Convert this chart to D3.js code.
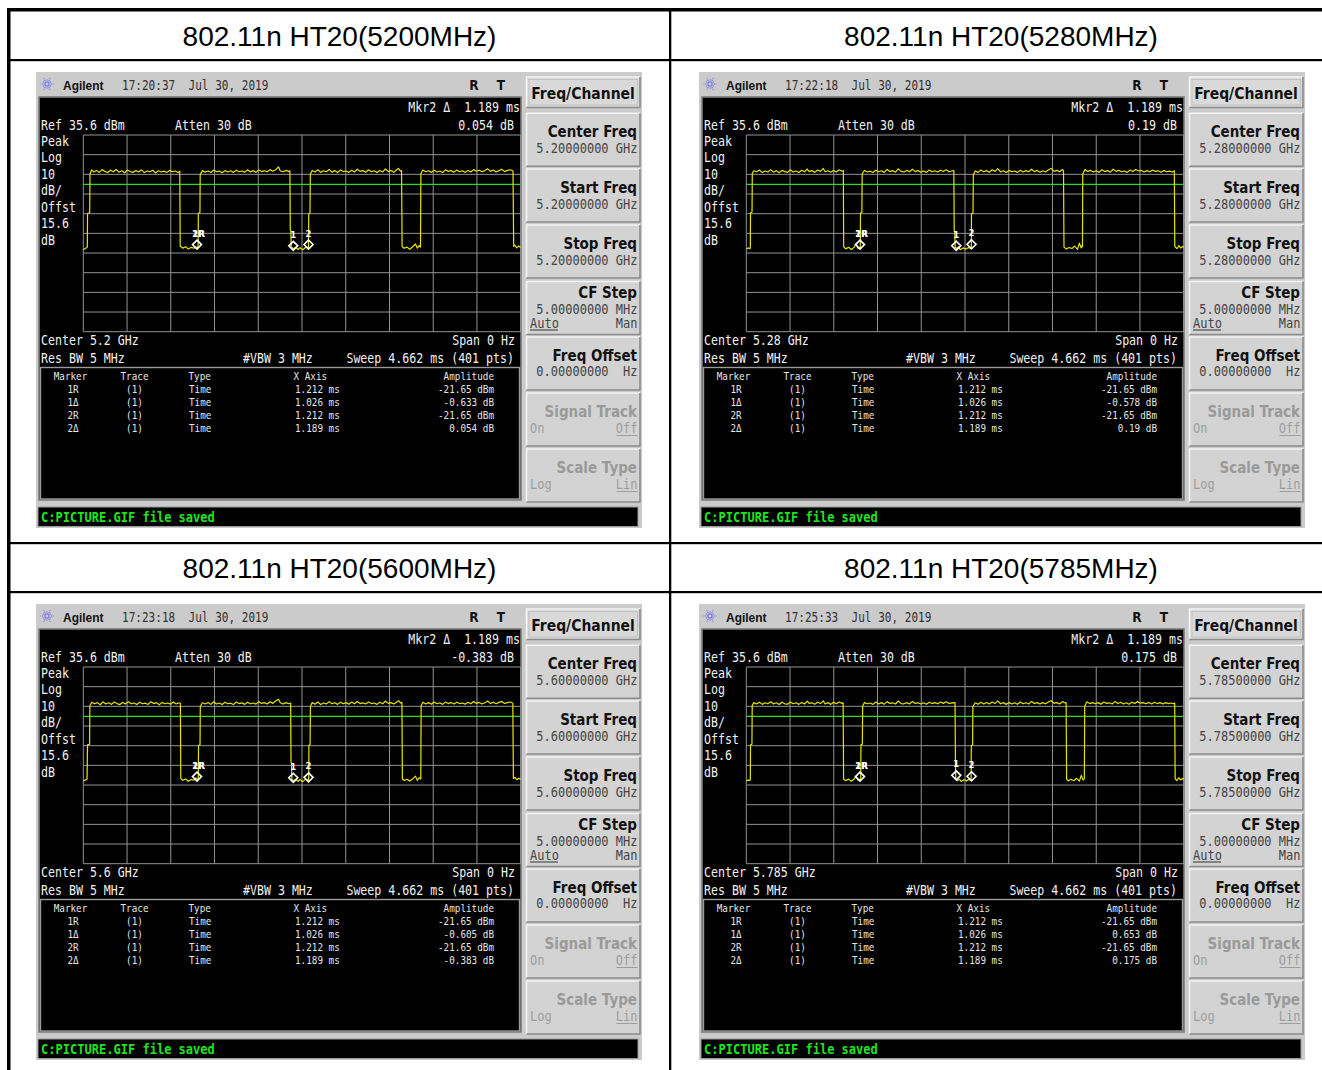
<!DOCTYPE html>
<html><head><meta charset="utf-8">
<script src="https://cdn.jsdelivr.net/npm/d3@7"></script>
<style>body{margin:0;background:#fff}svg{display:block}text{white-space:pre}</style>
</head><body>
<svg id="c" width="1322" height="1070"></svg>
<script>
// ---------------- data ----------------
const titles = ["802.11n HT20(5200MHz)","802.11n HT20(5280MHz)","802.11n HT20(5600MHz)","802.11n HT20(5785MHz)"];
const clockTimes = ["17:20:37","17:22:18","17:23:18","17:25:33"];
const dateText = "Jul 30, 2019";
const centerFreqs = ["5.20000000 GHz","5.28000000 GHz","5.60000000 GHz","5.78500000 GHz"];
const centerShort = ["5.2 GHz","5.28 GHz","5.6 GHz","5.785 GHz"];
const mkr2Delta = ["0.054 dB","0.19 dB","-0.383 dB","0.175 dB"];
const markerNames = ["1R","1Δ","2R","2Δ"];
const markerXText = ["1.212 ms","1.026 ms","1.212 ms","1.189 ms"];
const markerXms = [1.212, 1.026, 1.212, 1.189];
const markerAmpText = [
  ["-21.65 dBm","-0.633 dB","-21.65 dBm","0.054 dB"],
  ["-21.65 dBm","-0.578 dB","-21.65 dBm","0.19 dB"],
  ["-21.65 dBm","-0.605 dB","-21.65 dBm","-0.383 dB"],
  ["-21.65 dBm","0.653 dB","-21.65 dBm","0.175 dB"]
];
const markerRefAmp = -21.65;
const markerDeltaAmp = [[-0.633,0.054],[-0.578,0.19],[-0.605,-0.383],[0.653,0.175]];
const refLevel = 35.6, dbPerDiv = 10, divisions = 10, sweepMs = 4.662, displayLineDbm = 10.5;
const leftLabels = ["Peak","Log","10","dB/","Offst","15.6","dB"];
const softkeyLabels = ["Center Freq","Start Freq","Stop Freq","CF Step","Freq Offset","Signal Track","Scale Type"];

// traces: [time ms, level dBm]
const trace5200 = [[0,-22.8],[0.015,-22.2],[0.035,-21.7],[0.043,-21.4],[0.045,-4.3],[0.068,-3.9],[0.071,15.8],
[0.09,17.9],[0.11,16.8],[0.14,17.6],[0.17,16.6],[0.20,18.0],[0.23,17.1],[0.26,16.5],[0.29,17.7],[0.32,16.9],[0.35,18.1],[0.38,16.7],[0.41,17.4],[0.44,16.4],[0.47,17.8],[0.50,17.0],[0.53,16.6],[0.56,17.5],[0.59,16.8],[0.62,17.9],[0.65,16.5],[0.68,17.3],[0.71,16.9],[0.74,17.7],[0.77,16.3],[0.80,17.4],[0.83,16.8],[0.86,17.2],[0.89,16.6],[0.92,17.6],[0.95,16.9],[0.98,17.3],[1.01,16.5],[1.028,17.2],
[1.033,-21.0],[1.06,-21.9],[1.09,-21.2],[1.12,-22.4],[1.15,-21.5],[1.18,-22.0],[1.20,-21.3],[1.215,-21.7],[1.224,-20.8],[1.226,-4.2],[1.243,-3.8],[1.246,15.6],
[1.27,17.5],[1.30,16.7],[1.33,17.3],[1.36,16.5],[1.39,17.8],[1.42,16.9],[1.45,17.2],[1.48,16.4],[1.51,17.5],[1.54,16.8],[1.57,17.4],[1.60,16.6],[1.63,17.7],[1.66,16.9],[1.69,17.3],[1.72,16.7],[1.75,17.9],[1.78,16.8],[1.81,17.5],[1.84,16.6],[1.87,17.8],[1.90,17.0],[1.93,17.4],[1.96,16.9],[1.99,18.0],[2.02,17.2],[2.05,17.9],[2.08,19.4],[2.10,17.3],[2.13,16.9],[2.16,17.6],[2.19,17.0],[2.202,17.4],
[2.206,-12.5],[2.212,-13.0],[2.216,-21.3],[2.24,-22.3],[2.26,-21.4],[2.29,-22.6],[2.31,-21.7],[2.34,-22.8],[2.37,-21.5],[2.39,-22.0],[2.40,-21.6],[2.403,-4.4],[2.416,-4.0],[2.42,15.7],
[2.44,17.6],[2.47,16.8],[2.50,17.9],[2.53,16.6],[2.56,17.4],[2.59,16.9],[2.62,18.1],[2.65,16.7],[2.68,17.5],[2.71,16.5],[2.74,17.8],[2.77,17.0],[2.80,17.3],[2.83,16.6],[2.86,17.7],[2.89,16.8],[2.92,18.2],[2.95,17.1],[2.98,17.5],[3.01,16.7],[3.04,17.9],[3.07,16.9],[3.10,17.4],[3.13,16.5],[3.16,17.6],[3.19,16.8],[3.22,18.3],[3.25,17.0],[3.28,17.6],[3.31,16.7],[3.34,17.9],[3.36,18.6],[3.38,17.2],[3.392,17.5],
[3.398,-21.1],[3.42,-22.0],[3.45,-21.4],[3.48,-22.5],[3.51,-21.2],[3.54,-19.8],[3.56,-21.9],[3.58,-20.6],[3.594,-21.4],[3.598,16.0],
[3.62,17.8],[3.65,16.9],[3.68,17.4],[3.71,16.6],[3.74,17.7],[3.77,16.8],[3.80,17.3],[3.83,16.5],[3.86,17.9],[3.89,17.1],[3.92,17.5],[3.95,16.7],[3.98,17.8],[4.01,16.9],[4.04,17.4],[4.07,16.6],[4.10,17.6],[4.13,16.8],[4.16,18.0],[4.19,17.2],[4.22,17.7],[4.25,16.9],[4.28,17.5],[4.31,18.4],[4.34,17.1],[4.37,17.8],[4.40,16.8],[4.43,17.5],[4.46,18.2],[4.49,17.0],[4.52,17.6],[4.55,17.9],[4.58,17.3],
[4.587,-21.0],[4.60,-20.4],[4.62,-21.8],[4.64,-20.9],[4.662,-21.5]];

const trace5280 = [[0,-22.4],[0.02,-21.8],[0.038,-22.2],[0.043,-21.6],[0.045,-3.9],[0.061,-3.6],[0.064,16.1],
[0.08,17.4],[0.11,16.9],[0.14,17.8],[0.17,16.5],[0.20,17.3],[0.23,16.8],[0.26,18.0],[0.29,16.7],[0.32,17.5],[0.35,16.4],[0.38,17.6],[0.41,17.0],[0.44,16.6],[0.47,17.9],[0.50,16.8],[0.53,17.3],[0.56,16.5],[0.59,17.7],[0.62,16.9],[0.65,18.3],[0.67,17.0],[0.70,17.5],[0.73,16.6],[0.76,17.8],[0.79,17.1],[0.82,18.6],[0.84,16.9],[0.87,17.4],[0.90,16.7],[0.93,17.6],[0.96,16.8],[0.99,17.9],[1.02,17.2],[1.034,17.5],
[1.038,-21.2],[1.06,-22.3],[1.09,-21.5],[1.12,-22.6],[1.15,-21.4],[1.17,-19.6],[1.19,-22.1],[1.21,-21.6],[1.215,-21.9],[1.217,-4.1],[1.232,-3.7],[1.235,15.9],
[1.26,17.6],[1.29,16.8],[1.32,17.2],[1.35,16.5],[1.38,17.7],[1.41,16.9],[1.44,17.4],[1.47,16.6],[1.50,18.1],[1.53,17.0],[1.56,17.5],[1.59,16.7],[1.62,18.4],[1.65,17.1],[1.68,16.8],[1.71,17.6],[1.74,16.9],[1.77,18.2],[1.80,17.0],[1.83,17.5],[1.86,16.7],[1.89,17.3],[1.92,16.6],[1.95,17.8],[1.98,16.9],[2.01,17.4],[2.04,16.8],[2.07,17.7],[2.10,17.0],[2.13,18.0],[2.16,16.9],[2.19,17.3],[2.212,17.6],
[2.216,-13.2],[2.222,-13.6],[2.226,-21.5],[2.24,-22.1],[2.26,-21.3],[2.28,-22.7],[2.31,-21.8],[2.34,-22.4],[2.37,-21.6],[2.39,-22.2],[2.398,-21.7],[2.40,-4.5],[2.416,-4.1],[2.42,15.4],
[2.44,17.3],[2.47,16.6],[2.50,17.8],[2.53,16.9],[2.56,17.5],[2.59,16.7],[2.62,17.9],[2.65,17.1],[2.68,18.5],[2.71,16.8],[2.74,17.4],[2.77,16.5],[2.80,17.6],[2.83,16.9],[2.86,17.3],[2.89,16.6],[2.92,17.7],[2.95,16.8],[2.98,17.5],[3.01,16.9],[3.04,18.2],[3.07,17.0],[3.10,17.6],[3.13,16.7],[3.16,17.4],[3.19,16.8],[3.22,17.9],[3.25,18.6],[3.28,17.1],[3.31,17.6],[3.34,16.9],[3.37,18.1],[3.381,17.4],
[3.386,-21.3],[3.41,-22.4],[3.44,-21.6],[3.47,-22.1],[3.50,-20.9],[3.53,-22.5],[3.55,-19.4],[3.57,-21.8],[3.58,-20.5],[3.583,-21.2],[3.586,15.8],
[3.61,18.0],[3.64,17.1],[3.67,17.6],[3.70,16.8],[3.73,17.4],[3.76,16.6],[3.79,17.9],[3.82,17.0],[3.85,17.5],[3.88,16.7],[3.91,18.2],[3.94,17.1],[3.97,17.6],[4.00,16.9],[4.03,17.3],[4.06,16.6],[4.09,17.8],[4.12,17.0],[4.15,18.1],[4.18,17.3],[4.21,17.6],[4.24,16.8],[4.27,17.5],[4.30,16.9],[4.33,17.8],[4.36,17.1],[4.39,17.4],[4.42,16.7],[4.45,17.6],[4.48,16.9],[4.51,17.2],[4.54,16.8],[4.562,17.4],
[4.567,-21.1],[4.59,-22.2],[4.61,-20.6],[4.63,-21.9],[4.65,-21.0],[4.662,-21.6]];

const trace5600 = [[0,-22.5],[0.02,-21.9],[0.04,-21.5],[0.045,-4.0],[0.067,-3.7],[0.07,15.9],
[0.09,17.7],[0.12,16.9],[0.15,17.5],[0.18,16.4],[0.21,17.9],[0.24,16.8],[0.27,17.4],[0.30,16.6],[0.33,17.8],[0.36,17.0],[0.39,16.5],[0.42,17.6],[0.45,16.8],[0.48,18.0],[0.51,16.9],[0.54,17.3],[0.57,16.5],[0.60,17.7],[0.63,16.9],[0.66,17.2],[0.69,16.6],[0.72,17.9],[0.75,17.0],[0.78,17.5],[0.81,16.4],[0.84,17.6],[0.87,16.9],[0.90,17.3],[0.93,16.7],[0.96,17.8],[0.99,16.8],[1.02,17.4],[1.035,17.0],
[1.039,-21.1],[1.06,-22.0],[1.09,-21.3],[1.12,-22.5],[1.15,-21.6],[1.18,-21.9],[1.20,-20.8],[1.22,-21.7],[1.226,-21.2],[1.228,-4.3],[1.244,-3.9],[1.247,15.5],
[1.27,17.4],[1.30,16.8],[1.33,17.6],[1.36,16.6],[1.39,17.9],[1.42,16.8],[1.45,17.3],[1.48,16.5],[1.51,17.7],[1.54,16.9],[1.57,17.2],[1.60,16.5],[1.63,17.8],[1.66,17.0],[1.69,17.4],[1.72,16.6],[1.75,17.7],[1.78,16.9],[1.81,17.3],[1.84,16.7],[1.87,18.0],[1.90,17.1],[1.93,17.5],[1.96,16.8],[1.99,17.9],[2.02,17.1],[2.05,18.3],[2.08,19.2],[2.10,17.4],[2.13,16.8],[2.16,17.5],[2.19,16.9],[2.21,17.3],
[2.214,-12.8],[2.219,-13.3],[2.223,-21.4],[2.24,-22.4],[2.26,-21.5],[2.29,-22.5],[2.31,-21.6],[2.34,-22.7],[2.37,-21.4],[2.39,-22.1],[2.402,-21.7],[2.405,-4.2],[2.417,-3.9],[2.421,15.6],
[2.44,17.5],[2.47,16.7],[2.50,17.8],[2.53,16.5],[2.56,17.3],[2.59,16.8],[2.62,18.0],[2.65,16.9],[2.68,17.4],[2.71,16.6],[2.74,17.7],[2.77,16.9],[2.80,17.5],[2.83,16.7],[2.86,17.8],[2.89,16.9],[2.92,18.1],[2.95,17.0],[2.98,17.4],[3.01,16.8],[3.04,17.8],[3.07,17.0],[3.10,17.3],[3.13,16.6],[3.16,17.7],[3.19,16.9],[3.22,18.2],[3.25,17.1],[3.28,17.5],[3.31,16.8],[3.34,17.8],[3.36,18.5],[3.38,17.3],[3.396,17.6],
[3.401,-21.2],[3.42,-22.1],[3.45,-21.5],[3.48,-22.4],[3.51,-21.3],[3.54,-19.9],[3.56,-22.0],[3.58,-20.7],[3.597,-21.3],[3.601,15.9],
[3.62,17.7],[3.65,16.8],[3.68,17.5],[3.71,16.7],[3.74,17.8],[3.77,16.9],[3.80,17.4],[3.83,16.6],[3.86,17.8],[3.89,17.0],[3.92,17.6],[3.95,16.8],[3.98,17.7],[4.01,17.0],[4.04,17.3],[4.07,16.7],[4.10,17.7],[4.13,16.9],[4.16,18.1],[4.19,17.1],[4.22,17.6],[4.25,16.8],[4.28,17.4],[4.31,18.3],[4.34,17.0],[4.37,17.7],[4.40,16.9],[4.43,17.6],[4.46,18.1],[4.49,17.1],[4.52,17.5],[4.55,17.8],[4.578,17.2],
[4.584,-21.1],[4.60,-20.5],[4.62,-21.7],[4.64,-21.0],[4.662,-21.4]];

const trace5785 = [[0,-22.3],[0.02,-21.9],[0.038,-22.1],[0.043,-21.5],[0.045,-4.0],[0.06,-3.7],[0.063,16.0],
[0.08,17.5],[0.11,16.8],[0.14,17.7],[0.17,16.6],[0.20,17.4],[0.23,16.9],[0.26,17.9],[0.29,16.8],[0.32,17.4],[0.35,16.5],[0.38,17.7],[0.41,16.9],[0.44,16.7],[0.47,17.8],[0.50,16.9],[0.53,17.4],[0.56,16.6],[0.59,17.6],[0.62,16.8],[0.65,18.2],[0.67,17.1],[0.70,17.4],[0.73,16.7],[0.76,17.7],[0.79,17.0],[0.82,18.4],[0.84,16.8],[0.87,17.5],[0.90,16.6],[0.93,17.7],[0.96,16.9],[0.99,17.8],[1.02,17.1],[1.032,17.4],
[1.037,-21.3],[1.06,-22.2],[1.09,-21.4],[1.12,-22.5],[1.15,-21.3],[1.17,-19.8],[1.19,-22.0],[1.21,-21.7],[1.22,-21.8],[1.222,-4.0],[1.237,-3.6],[1.24,15.8],
[1.26,17.5],[1.29,16.9],[1.32,17.3],[1.35,16.6],[1.38,17.8],[1.41,16.8],[1.44,17.5],[1.47,16.7],[1.50,18.0],[1.53,17.1],[1.56,17.4],[1.59,16.8],[1.62,18.3],[1.65,17.0],[1.68,16.9],[1.71,17.5],[1.74,16.8],[1.77,18.1],[1.80,17.1],[1.83,17.4],[1.86,16.8],[1.89,17.4],[1.92,16.7],[1.95,17.7],[1.98,17.0],[2.01,17.5],[2.04,16.9],[2.07,17.8],[2.10,17.1],[2.13,17.9],[2.16,17.0],[2.19,17.4],[2.225,17.5],
[2.229,-13.0],[2.233,-21.4],[2.25,-22.2],[2.27,-21.4],[2.29,-22.6],[2.32,-21.7],[2.35,-22.3],[2.37,-21.5],[2.39,-22.1],[2.396,-21.8],[2.398,-4.4],[2.412,-4.0],[2.415,15.5],
[2.44,17.4],[2.47,16.7],[2.50,17.7],[2.53,16.8],[2.56,17.6],[2.59,16.8],[2.62,17.8],[2.65,17.0],[2.68,18.4],[2.71,16.9],[2.74,17.5],[2.77,16.6],[2.80,17.5],[2.83,16.8],[2.86,17.4],[2.89,16.7],[2.92,17.8],[2.95,16.9],[2.98,17.4],[3.01,16.8],[3.04,18.1],[3.07,17.1],[3.10,17.5],[3.13,16.8],[3.16,17.5],[3.19,16.9],[3.22,17.8],[3.25,18.5],[3.28,17.2],[3.31,17.5],[3.34,16.8],[3.37,18.0],[3.40,17.3],[3.409,17.5],
[3.414,-21.4],[3.43,-22.3],[3.46,-21.5],[3.49,-22.2],[3.52,-21.0],[3.55,-22.4],[3.57,-19.5],[3.59,-21.9],[3.603,-21.2],[3.607,15.7],
[3.63,17.9],[3.66,17.0],[3.69,17.5],[3.72,16.9],[3.75,17.5],[3.78,16.7],[3.81,17.8],[3.84,17.1],[3.87,17.4],[3.90,16.8],[3.93,18.1],[3.96,17.0],[3.99,17.7],[4.02,16.8],[4.05,17.4],[4.08,16.7],[4.11,17.7],[4.14,17.1],[4.17,18.0],[4.20,17.2],[4.23,17.5],[4.26,16.9],[4.29,17.6],[4.32,16.8],[4.35,17.7],[4.38,17.0],[4.41,17.5],[4.44,16.8],[4.47,17.5],[4.50,17.0],[4.53,17.3],[4.55,16.9],[4.566,17.3],
[4.571,-21.2],[4.59,-22.1],[4.61,-20.7],[4.63,-21.8],[4.65,-21.1],[4.662,-21.5]];
const traces = [trace5200, trace5280, trace5600, trace5785];

// ---------------- drawing ----------------
const MONO = "'DejaVu Sans Mono', monospace";
const SANS = "'Liberation Sans', Arial, sans-serif";
const DSANS = "'DejaVu Sans', sans-serif";
const svg = d3.select("#c");

function T(g, x, y, s, o = {}) {
  return g.append("text")
    .attr("transform", `translate(${x},${y}) scale(${o.sx || 1},1)`)
    .attr("xml:space", "preserve")
    .attr("font-family", o.ff || MONO)
    .attr("font-size", o.fs || 13.5)
    .attr("font-weight", o.fw || "normal")
    .attr("fill", o.fill || "#f2f2f2")
    .attr("text-anchor", o.anchor || "start")
    .text(s);
}

// table frame
svg.append("rect").attr("x", 7).attr("y", 8).attr("width", 1315).attr("height", 3.5).attr("fill", "#000");
svg.append("rect").attr("x", 7).attr("y", 8).attr("width", 3.5).attr("height", 1062).attr("fill", "#000");
svg.append("rect").attr("x", 669).attr("y", 8).attr("width", 2.3).attr("height", 1062).attr("fill", "#000");
[59, 542, 591].forEach(yy => svg.append("rect").attr("x", 7).attr("y", yy).attr("width", 1315).attr("height", 2.2).attr("fill", "#000"));

const titlePos = [[339.5, 45.5], [1001, 45.5], [339.5, 577.5], [1001, 577.5]];
const origins = [[36, 72], [699, 72], [36, 604], [699, 604]];

const x = d3.scaleLinear().domain([0, sweepMs]).range([47.3, 484.7]);
const y = d3.scaleLinear().domain([refLevel - dbPerDiv * divisions, refLevel]).range([259.7, 63]);

function bevel(g, bx, by, bw, bh, fill) {
  g.append("rect").attr("x", bx).attr("y", by).attr("width", bw).attr("height", bh).attr("fill", fill);
  g.append("path").attr("d", `M${bx},${by + bh}V${by}H${bx + bw}`).attr("stroke", "#f4f4f4").attr("stroke-width", 1.6).attr("fill", "none");
  g.append("path").attr("d", `M${bx + bw},${by}V${by + bh}H${bx}`).attr("stroke", "#8c8c8c").attr("stroke-width", 1.6).attr("fill", "none");
}

titles.forEach((title, i) => {
  svg.append("text").attr("x", titlePos[i][0]).attr("y", titlePos[i][1])
    .attr("text-anchor", "middle").attr("font-family", SANS).attr("font-size", 28).attr("fill", "#000").text(title);

  const g = svg.append("g").attr("transform", `translate(${origins[i][0]},${origins[i][1]})`);
  g.append("rect").attr("width", 606).attr("height", 456).attr("fill", "#cbcbcb");

  // header
  const ic = g.append("g").attr("transform", "translate(11,12)");
  d3.range(12).forEach(k => {
    const a = k * Math.PI / 6, r = k % 2 ? 4.5 : 6.5;
    ic.append("line").attr("x1", Math.cos(a) * 1.5).attr("y1", Math.sin(a) * 1.5)
      .attr("x2", Math.cos(a) * r).attr("y2", Math.sin(a) * r)
      .attr("stroke", "#6b6bf0").attr("stroke-width", 1.1).attr("stroke-dasharray", "1.3,0.8");
  });
  T(g, 27, 17.5, "Agilent", { ff: SANS, fs: 13, fw: "bold", fill: "#111", sx: 0.92 });
  T(g, 86, 17.5, clockTimes[i] + "  " + dateText, { fs: 13.5, fill: "#333", sx: 0.82 });
  T(g, 438, 17.5, "R", { ff: DSANS, fs: 13.5, fw: "bold", fill: "#111", anchor: "middle", sx: 0.9 });
  T(g, 465, 17.5, "T", { ff: DSANS, fs: 13.5, fw: "bold", fill: "#111", anchor: "middle", sx: 0.9 });

  // screen
  g.append("rect").attr("x", 3).attr("y", 25).attr("width", 482).attr("height", 403)
    .attr("fill", "#000").attr("stroke", "#7c7c7c").attr("stroke-width", 1.6);

  const F = { fs: 13.5, sx: 0.86 };
  T(g, 484, 40, "Mkr2 Δ  1.189 ms", { ...F, anchor: "end" });
  T(g, 478, 57.5, mkr2Delta[i], { ...F, anchor: "end" });
  T(g, 5, 57.5, "Ref 35.6 dBm", F);
  T(g, 139, 57.5, "Atten 30 dB", F);
  leftLabels.forEach((s, k) => T(g, 5, 73.5 + k * 16.5, s, F));

  // graticule
  const grid = g.append("g").attr("stroke", "#939393").attr("stroke-width", 1);
  d3.range(divisions + 1).forEach(k => {
    const xv = x(k * sweepMs / divisions);
    grid.append("line").attr("x1", xv).attr("x2", xv).attr("y1", y.range()[1]).attr("y2", y.range()[0]);
    const yv = y(refLevel - k * dbPerDiv);
    grid.append("line").attr("x1", x.range()[0]).attr("x2", x.range()[1]).attr("y1", yv).attr("y2", yv);
  });

  // display line
  g.append("line").attr("x1", x.range()[0]).attr("x2", x.range()[1])
    .attr("y1", y(displayLineDbm)).attr("y2", y(displayLineDbm))
    .attr("stroke", "#22e022").attr("stroke-width", 1.3);

  // trace
  g.append("path").datum(traces[i])
    .attr("d", d3.line().x(d => x(d[0])).y(d => y(d[1])))
    .attr("fill", "none").attr("stroke", "#e4e400").attr("stroke-width", 1.2).attr("stroke-linejoin", "round");

  // markers
  const refT = markerXms[0];
  const mk = [
    { t: refT, a: markerRefAmp, lab: ["1R", "2R"] },
    { t: refT + markerXms[1], a: markerRefAmp + markerDeltaAmp[i][0], lab: ["1"] },
    { t: refT + markerXms[3], a: markerRefAmp + markerDeltaAmp[i][1], lab: ["2"] }
  ];
  mk.forEach(m => {
    const cx = x(m.t), cy = y(m.a) - 3;
    g.append("path").attr("d", `M${cx},${cy - 4.5}L${cx + 4.5},${cy}L${cx},${cy + 4.5}L${cx - 4.5},${cy}Z`)
      .attr("fill", "none").attr("stroke", "#fff").attr("stroke-width", 1.6);
    m.lab.forEach(s => T(g, cx + (s.length > 1 ? 1.5 : 0), cy - 8, s, { ff: DSANS, fs: 8.5, fw: "bold", fill: "#fff", anchor: "middle" }));
  });

  // bottom annotation
  T(g, 5, 273, "Center " + centerShort[i], F);
  T(g, 479, 273, "Span 0 Hz", { ...F, anchor: "end" });
  T(g, 5, 291, "Res BW 5 MHz", F);
  T(g, 207, 291, "#VBW 3 MHz", F);
  T(g, 478, 291, "Sweep 4.662 ms (401 pts)", { ...F, anchor: "end" });

  // marker table
  g.append("rect").attr("x", 4.5).attr("y", 295.5).attr("width", 479).attr("height", 131.5)
    .attr("fill", "none").attr("stroke", "#9a9a9a").attr("stroke-width", 1.4);
  const M = { fs: 9.8, fill: "#e6e6e6", sx: 0.95 };
  T(g, 34.5, 308, "Marker", { ...M, anchor: "middle" });
  T(g, 98.5, 308, "Trace", { ...M, anchor: "middle" });
  T(g, 152.5, 308, "Type", M);
  T(g, 257.5, 308, "X Axis", M);
  T(g, 458, 308, "Amplitude", { ...M, anchor: "end" });
  markerNames.forEach((nm, r) => {
    const yy = 321.3 + r * 13;
    T(g, 37, yy, nm, { ...M, anchor: "middle" });
    T(g, 98.5, yy, "(1)", { ...M, anchor: "middle" });
    T(g, 153, yy, "Time", M);
    T(g, 259, yy, markerXText[r], M);
    T(g, 458, yy, markerAmpText[i][r], { ...M, anchor: "end" });
  });

  // status bar
  g.append("rect").attr("x", 2).attr("y", 435).attr("width", 600).attr("height", 19.5).attr("fill", "#000")
    .attr("stroke", "#9a9a9a").attr("stroke-width", 1);
  T(g, 5, 449.5, "C:PICTURE.GIF file saved", { fs: 14, fw: "bold", fill: "#1ee61e", sx: 0.86 });

  // softkeys
  bevel(g, 490.5, 5, 113.5, 30.5, "#d9d9d9");
  g.append("rect").attr("x", 493).attr("y", 7.5).attr("width", 108.5).attr("height", 25.5).attr("fill", "none").attr("stroke", "#bdbdbd").attr("stroke-width", 0.8);
  T(g, 547, 26.5, "Freq/Channel", { ff: DSANS, fs: 15, fw: "bold", fill: "#111", anchor: "middle", sx: 0.93 });

  const keyTops = [41.3, 97, 153, 209.5, 265, 321, 377];
  const KL = { ff: DSANS, fs: 15, fw: "bold", fill: "#111", anchor: "end", sx: 0.9 };
  const KV = { fs: 13.5, fill: "#454545", anchor: "end", sx: 0.89 };
  softkeyLabels.forEach((lab, k) => {
    const t0 = keyTops[k];
    bevel(g, 490.5, t0, 113.5, 53, "#d3d3d3");
    if (k <= 2) {
      T(g, 601, t0 + 24, lab, KL);
      T(g, 601.5, t0 + 40, centerFreqs[i], KV);
    } else if (k === 3) {
      T(g, 601, t0 + 16, lab, KL);
      T(g, 601.5, t0 + 32, "5.00000000 MHz", KV);
      T(g, 494, t0 + 46, "Auto", { ...KV, anchor: "start" });
      T(g, 601.5, t0 + 46, "Man", KV);
      g.append("line").attr("x1", 494).attr("x2", 522).attr("y1", t0 + 48.5).attr("y2", t0 + 48.5).attr("stroke", "#333").attr("stroke-width", 1);
    } else if (k === 4) {
      T(g, 601, t0 + 24, lab, KL);
      T(g, 601.5, t0 + 38.5, "0.00000000  Hz", KV);
    } else {
      const dis = { ...KL, fill: "#9a9a9a" };
      const dv = { ...KV, fill: "#9e9e9e" };
      T(g, 601, t0 + 24, lab, dis);
      const pair = k === 5 ? ["On", "Off"] : ["Log", "Lin"];
      T(g, 494, t0 + 40, pair[0], { ...dv, anchor: "start" });
      T(g, 601.5, t0 + 40, pair[1], dv);
      g.append("line").attr("x1", 601.5 - pair[1].length * 7).attr("x2", 601.5).attr("y1", t0 + 42.5).attr("y2", t0 + 42.5).attr("stroke", "#9e9e9e").attr("stroke-width", 1);
    }
  });
});
</script>
</body></html>
